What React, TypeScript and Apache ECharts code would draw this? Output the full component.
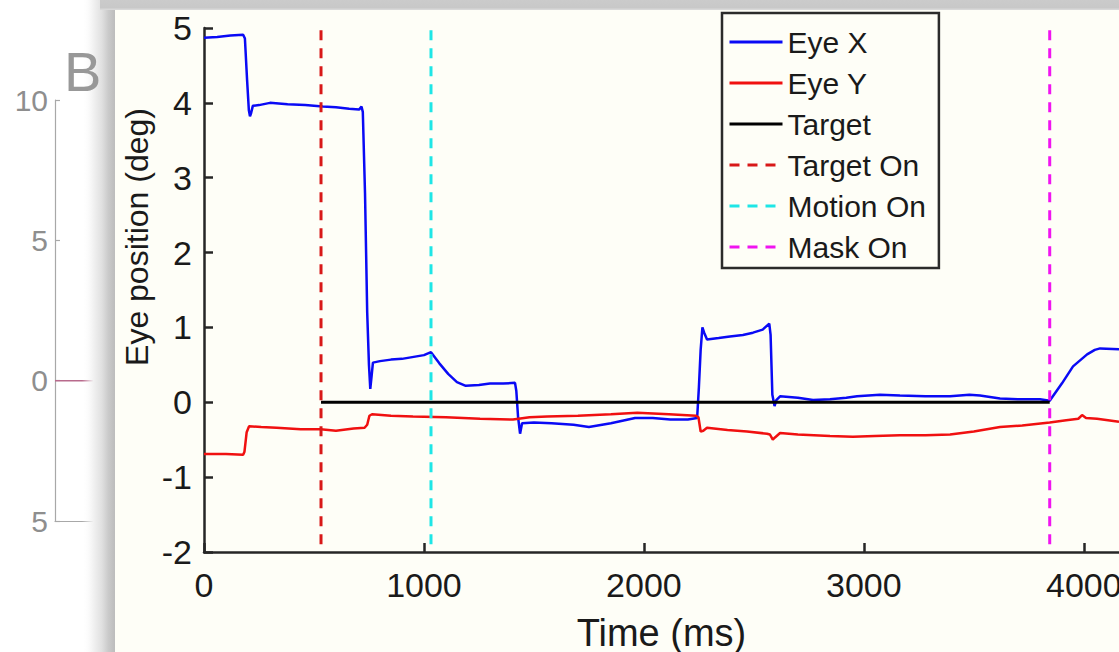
import React, { useEffect, useRef } from "react";
import * as echarts from "echarts";

const FONT = "Liberation Sans, Arial, Helvetica, sans-serif";

// Eye X trace [time ms, position deg]
const eyeX: number[][] = [
  [0, 4.87], [60, 4.88], [120, 4.9], [178, 4.91], [186, 4.86], [196, 4.3], [204, 3.9], [209, 3.82],
  [214, 3.86], [222, 3.96], [250, 3.97], [300, 4.0], [380, 3.98], [460, 3.97], [540, 3.95], [600, 3.94],
  [660, 3.92], [705, 3.91], [716, 3.95], [722, 3.88], [732, 2.8], [742, 1.2], [750, 0.5], [756, 0.18],
  [762, 0.35], [768, 0.53], [800, 0.55], [850, 0.57], [900, 0.58], [960, 0.61], [1000, 0.63], [1032, 0.67],
  [1070, 0.52], [1110, 0.38], [1150, 0.27], [1190, 0.22], [1250, 0.23], [1300, 0.25], [1360, 0.25],
  [1414, 0.26], [1420, 0.15], [1428, -0.2], [1437, -0.42], [1446, -0.28], [1500, -0.27], [1580, -0.28],
  [1680, -0.3], [1750, -0.33], [1850, -0.28], [1960, -0.21], [2040, -0.21], [2120, -0.23], [2200, -0.23],
  [2242, -0.21], [2250, 0.2], [2258, 0.7], [2266, 1.0], [2274, 0.93], [2287, 0.84], [2340, 0.86],
  [2391, 0.88], [2450, 0.9], [2496, 0.93], [2540, 0.97], [2570, 1.05], [2576, 0.9], [2584, 0.1],
  [2594, -0.05], [2602, 0.03], [2619, 0.08], [2700, 0.06], [2769, 0.03], [2846, 0.04], [2920, 0.06],
  [2969, 0.08], [3073, 0.1], [3164, 0.09], [3280, 0.08], [3392, 0.08], [3480, 0.1], [3528, 0.09],
  [3619, 0.05], [3700, 0.04], [3801, 0.04], [3845, 0.02], [3900, 0.25], [3951, 0.48], [4015, 0.64],
  [4050, 0.7], [4074, 0.72], [4160, 0.71],
];

// Eye Y trace [time ms, position deg]
const eyeY: number[][] = [
  [0, -0.69], [100, -0.69], [178, -0.7], [184, -0.66], [194, -0.4], [205, -0.32], [260, -0.33],
  [330, -0.34], [440, -0.36], [530, -0.36], [600, -0.38], [680, -0.35], [730, -0.34], [742, -0.3],
  [752, -0.18], [764, -0.16], [850, -0.18], [950, -0.19], [1100, -0.2], [1255, -0.22], [1405, -0.23],
  [1480, -0.2], [1560, -0.19], [1700, -0.18], [1850, -0.16], [1970, -0.14], [2114, -0.16], [2237, -0.18],
  [2248, -0.2], [2258, -0.39], [2270, -0.38], [2287, -0.34], [2380, -0.37], [2469, -0.39], [2560, -0.42],
  [2573, -0.43], [2586, -0.5], [2596, -0.47], [2619, -0.41], [2700, -0.43], [2846, -0.45], [2950, -0.46],
  [3050, -0.45], [3164, -0.44], [3280, -0.44], [3392, -0.43], [3500, -0.39], [3619, -0.33], [3720, -0.31],
  [3845, -0.27], [3920, -0.24], [3975, -0.22], [3992, -0.17], [4010, -0.21], [4060, -0.22], [4110, -0.24],
  [4160, -0.26],
];

// Target position
const target: number[][] = [[532, 0], [3845, 0]];

// Event times (ms)
const targetOnTime = 532;
const motionOnTime = 1032;
const maskOnTime = 3845;
const eventTop = 4.97;
const eventBottom = -2;

// axes
const xMin = 0;
const xMax = 4160;
const xInterval = 1000;
const yMin = -2;
const yMax = 5;
const yInterval = 1;
const yTitle = "Eye position (deg)";
const xTitle = "Time (ms)";

// partially hidden panel behind (left)
const bgTicks = [-5, 0, 5, 10];
const bgTickLabels = ["5", "0", "5", "10"];
const bgTrace: number[][] = [[0, 0], [1, 0]];

const legendNames = ["Eye X", "Eye Y", "Target", "Target On", "Motion On", "Mask On"];

export default function App() {
  const ref = useRef<HTMLDivElement>(null);
  useEffect(() => {
    if (!ref.current) return;
    const chart = echarts.init(ref.current, null, { renderer: "svg" });
    const dash = [10, 8];
    const option: any = {
      animation: false,
      backgroundColor: "#ffffff",
      textStyle: { fontFamily: FONT },
      grid: [
        { left: 204, top: 28, right: 0, bottom: 100, z: 5, containLabel: false, outerBoundsMode: "none" },
        { left: 55, top: 100, width: 60, height: 421, z: 1, containLabel: false, outerBoundsMode: "none" },
      ],
      legend: {
        data: legendNames,
        orient: "vertical",
        left: 722,
        top: 13,
        itemWidth: 53,
        itemHeight: 14,
        itemGap: 11,
        padding: [14, 13, 6, 6],
        backgroundColor: "#fefef7",
        borderColor: "#2b2b2b",
        borderWidth: 2.5,
        selectedMode: false,
        z: 10,
        itemStyle: { color: "rgba(0,0,0,0)", borderWidth: 0, opacity: 0 },
        lineStyle: { width: 3 },
        textStyle: { fontFamily: FONT, fontSize: 30, color: "#1a1a1a" },
      },
      xAxis: [
        {
          gridIndex: 0,
          type: "value",
          min: xMin,
          max: xMax,
          interval: xInterval,
          z: 5,
          name: xTitle,
          nameLocation: "middle",
          nameGap: 62,
          nameTextStyle: { fontFamily: FONT, fontSize: 38, color: "#1a1a1a" },
          axisLine: { onZero: false, lineStyle: { color: "#262626", width: 2.5 } },
          axisTick: { inside: true, length: 9, lineStyle: { color: "#262626", width: 2.5 } },
          axisLabel: {
            margin: 16,
            fontFamily: FONT,
            fontSize: 34,
            color: "#1a1a1a",
            showMaxLabel: false,
            hideOverlap: false,
            formatter: (v: number) => String(v),
          },
          splitLine: { show: false },
        },
        {
          gridIndex: 1,
          type: "value",
          min: 0,
          max: 1,
          z: 1,
          axisLine: { onZero: false, lineStyle: { color: "#a8a8a8", width: 1.2 } },
          axisTick: { show: false },
          axisLabel: { show: false },
          splitLine: { show: false },
        },
      ],
      yAxis: [
        {
          gridIndex: 0,
          type: "value",
          min: yMin,
          max: yMax,
          interval: yInterval,
          z: 5,
          axisLine: { onZero: false, lineStyle: { color: "#262626", width: 2.5 } },
          axisTick: { inside: true, length: 9, lineStyle: { color: "#262626", width: 2.5 } },
          axisLabel: { margin: 12, fontFamily: FONT, fontSize: 34, color: "#1a1a1a" },
          splitLine: { show: false },
        },
        {
          gridIndex: 1,
          type: "value",
          min: -5,
          max: 10,
          interval: 5,
          z: 1,
          axisLine: { onZero: false, lineStyle: { color: "#a8a8a8", width: 1.2 } },
          axisTick: { inside: true, length: 5, lineStyle: { color: "#a8a8a8", width: 1.2 } },
          axisLabel: {
            margin: 7,
            fontFamily: FONT,
            fontSize: 30,
            color: "#8e8e8e",
            formatter: (v: number) => {
              const i = bgTicks.indexOf(v);
              return i >= 0 ? bgTickLabels[i] : "";
            },
          },
          splitLine: { show: false },
        },
      ],
      graphic: [
        {
          type: "rect",
          z: 2,
          shape: { x: 82, y: 0, width: 33, height: 652 },
          style: {
            fill: new echarts.graphic.LinearGradient(0, 0, 1, 0, [
              { offset: 0, color: "rgba(255,255,255,0)" },
              { offset: 0.35, color: "#f1f1f1" },
              { offset: 0.6, color: "#e0e0e0" },
              { offset: 0.8, color: "#cacaca" },
              { offset: 1, color: "#bcbcbc" },
            ]),
          },
        },
        {
          type: "rect",
          z: 2,
          shape: { x: 100, y: 0, width: 1019, height: 10 },
          style: {
            fill: new echarts.graphic.LinearGradient(0, 0, 0, 1, [
              { offset: 0, color: "#cbcbcb" },
              { offset: 0.75, color: "#c8c8c8" },
              { offset: 1, color: "#dcdcdc" },
            ]),
          },
        },
        {
          type: "rect",
          z: 2,
          shape: { x: 115, y: 10, width: 1004, height: 642 },
          style: { fill: "#fefef7" },
        },
        {
          type: "text",
          z: 2,
          left: 64,
          top: 43,
          style: { text: "B", fontFamily: FONT, fontSize: 56, fill: "#989898" },
        },
        {
          type: "text",
          z: 7,
          x: 137,
          y: 237,
          rotation: Math.PI / 2,
          style: {
            text: yTitle,
            fontFamily: FONT,
            fontSize: 32,
            fill: "#1a1a1a",
            align: "center",
            verticalAlign: "middle",
          },
        },
      ],
      series: [
        {
          name: "bg",
          type: "line",
          xAxisIndex: 1,
          yAxisIndex: 1,
          z: 1,
          symbol: "none",
          data: bgTrace,
          lineStyle: { color: "#b86a8c", width: 1.5 },
          silent: true,
        },
        {
          name: "Eye X",
          type: "line",
          z: 6,
          symbol: "none",
          data: eyeX,
          color: "#0a0af5",
          lineStyle: { color: "#0a0af5", width: 2.5 },
        },
        {
          name: "Eye Y",
          type: "line",
          z: 6,
          symbol: "none",
          data: eyeY,
          color: "#f01010",
          lineStyle: { color: "#f01010", width: 2.5 },
        },
        {
          name: "Target",
          type: "line",
          z: 6,
          symbol: "none",
          data: target,
          color: "#000000",
          lineStyle: { color: "#000000", width: 3 },
        },
        {
          name: "Target On",
          type: "line",
          z: 6,
          symbol: "none",
          data: [[targetOnTime, eventTop], [targetOnTime, eventBottom]],
          color: "#d81818",
          lineStyle: { color: "#d81818", width: 3, type: dash },
        },
        {
          name: "Motion On",
          type: "line",
          z: 6,
          symbol: "none",
          data: [[motionOnTime, eventTop], [motionOnTime, eventBottom]],
          color: "#1ee6e6",
          lineStyle: { color: "#1ee6e6", width: 3, type: dash },
        },
        {
          name: "Mask On",
          type: "line",
          z: 6,
          symbol: "none",
          data: [[maskOnTime, eventTop], [maskOnTime, eventBottom]],
          color: "#f014f0",
          lineStyle: { color: "#f014f0", width: 3, type: dash },
        },
      ],
    };
    chart.setOption(option);
    return () => chart.dispose();
  }, []);
  return (
    <div
      ref={ref}
      style={{ position: "absolute", left: 0, top: 0, width: 1119, height: 652, background: "#ffffff" }}
    />
  );
}
